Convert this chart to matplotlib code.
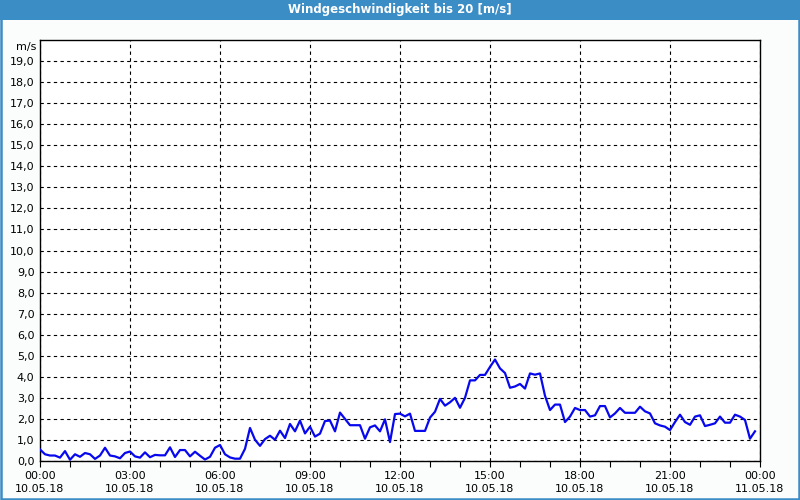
import numpy as np
import pandas as pd
import matplotlib
matplotlib.use("Agg")
import matplotlib.pyplot as plt
import matplotlib.dates as mdates
from matplotlib.patches import Rectangle

# wind speed in m/s, 10 minute values from 10.05.18 00:00
wind = [
    0.55, 0.32, 0.26, 0.26, 0.16, 0.47, 0.06, 0.32, 0.20, 0.38, 0.32, 0.10,
    0.26, 0.63, 0.26, 0.22, 0.13, 0.38, 0.45, 0.22, 0.16, 0.41, 0.18, 0.29,
    0.27, 0.27, 0.65, 0.19, 0.52, 0.52, 0.22, 0.44, 0.25, 0.07, 0.20, 0.63,
    0.76, 0.32, 0.17, 0.11, 0.11, 0.58, 1.57, 1.01, 0.72, 1.04, 1.20, 1.01,
    1.44, 1.09, 1.76, 1.41, 1.92, 1.31, 1.63, 1.16, 1.30, 1.90, 1.92, 1.41,
    2.30, 2.00, 1.70, 1.70, 1.70, 1.06, 1.60, 1.69, 1.41, 1.98, 0.90, 2.23,
    2.25, 2.12, 2.25, 1.43, 1.43, 1.43, 2.06, 2.34, 2.95, 2.63, 2.79, 3.00,
    2.53, 3.00, 3.83, 3.83, 4.09, 4.09, 4.47, 4.82, 4.40, 4.18, 3.48, 3.54,
    3.66, 3.44, 4.16, 4.10, 4.16, 3.10, 2.42, 2.68, 2.68, 1.85, 2.11, 2.52,
    2.42, 2.42, 2.11, 2.17, 2.61, 2.61, 2.07, 2.26, 2.52, 2.29, 2.29, 2.29,
    2.58, 2.36, 2.26, 1.79, 1.69, 1.63, 1.47, 1.85, 2.20, 1.85, 1.72, 2.11,
    2.17, 1.66, 1.72, 1.79, 2.11, 1.82, 1.82, 2.20, 2.11, 1.95, 1.06, 1.41,
]
times = pd.date_range("2018-05-10 00:00", periods=len(wind), freq="10min")
y_ticks = list(range(0, 20))
y_labels = ["%d,0" % v for v in y_ticks]

title = "Windgeschwindigkeit bis 20 [m/s]"
blue = "#3b8dc6"

fig = plt.figure(figsize=(8, 5), dpi=100)
fig.patch.set_facecolor("#fbfdfc")

# title bar and frame
fig.patches.append(Rectangle((0, 1 - 20 / 500), 1, 20 / 500, transform=fig.transFigure,
                             facecolor=blue, edgecolor="none", zorder=0))
fig.patches.append(Rectangle((0.001, 0.002), 0.998, 0.996, transform=fig.transFigure,
                             facecolor="none", edgecolor=blue, linewidth=1.8, zorder=5))
fig.text(0.5, 1 - 10 / 500, title, color="white", ha="center", va="center",
         fontsize=8.5, fontweight="bold")

ax = fig.add_axes([40 / 800, 39 / 500, 720 / 800, 421 / 500])
ax.set_facecolor("white")
ax.plot(times, wind, color="#0808ee", linewidth=1.6, zorder=3)

ax.set_xlim(pd.Timestamp("2018-05-10 00:00"), pd.Timestamp("2018-05-11 00:00"))
ax.set_ylim(0, 20)

ax.xaxis.set_major_locator(mdates.HourLocator(byhour=range(0, 24, 3)))
ax.xaxis.set_major_formatter(mdates.DateFormatter("%H:%M\n%d.%m.%y"))
ax.xaxis.set_minor_locator(mdates.HourLocator())
ax.tick_params(axis="x", which="both", length=4, width=0.8, direction="out",
               labelsize=8, pad=3)
for lab in ax.get_xticklabels():
    lab.set_linespacing(1.45)

ax.set_yticks(y_ticks)
ax.set_yticklabels(y_labels)
ax.tick_params(axis="y", length=0, labelsize=8, pad=4)

ax.grid(True, which="major", color="black", linestyle=(0, (3, 3)), linewidth=0.8)
for s in ax.spines.values():
    s.set_color("black")
    s.set_linewidth(1.0)

fig.text(36 / 800, 1 - 47 / 500, "m/s", ha="right", va="center", fontsize=8)

fig.savefig("out.png", dpi=100, facecolor=fig.get_facecolor())
